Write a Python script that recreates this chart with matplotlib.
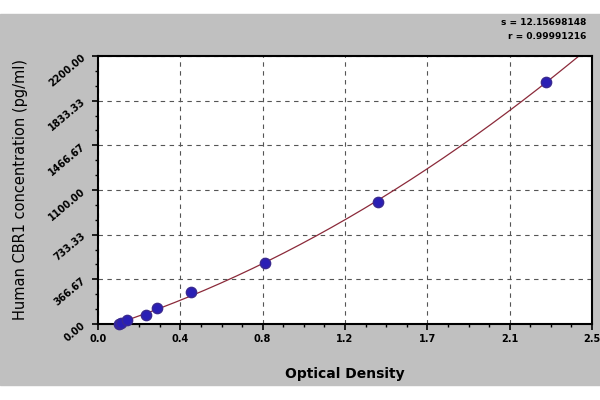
import matplotlib
matplotlib.use("Agg")
import matplotlib.pyplot as plt
import numpy as np

od = [0.105, 0.115, 0.147, 0.243, 0.299, 0.471, 0.845, 1.417, 2.267]
conc = [0, 10, 30, 74, 131, 263, 501, 1002, 1987]
xtick_labels = ["0.0", "0.4", "0.8", "1.2", "1.7", "2.1", "2.5"]
ytick_labels = ["0.00", "366.67", "733.33", "1100.00", "1466.67", "1833.33", "2200.00"]

fig = plt.figure(figsize=(6, 4), dpi=100)
fig.patch.set_facecolor("white")
fig.add_artist(plt.Rectangle((0, 0.037), 1, 0.928, transform=fig.transFigure, color="#c0c0c0", zorder=-10))
ax = fig.add_axes([98/600, 1-324/400, 494/600, 268/400])
ax.set_facecolor("white")

coef = np.polyfit(od, conc, 2)
xs = np.linspace(0.1, 2.5, 300)
ys = np.polyval(coef, xs)
m = ys <= 2200
ax.plot(xs[m], ys[m], color="#8b2a3a", lw=0.9, zorder=2)
ax.scatter(od, conc, s=55, color="#2a1fb5", edgecolor="#3a2a90", zorder=3, clip_on=False)

xt = np.linspace(0, 2.5, 7)
yt = np.linspace(0, 2200, 7)
ax.set_xlim(0, 2.5); ax.set_ylim(0, 2200)
ax.set_xticks(xt); ax.set_xticklabels(xtick_labels, fontsize=7, fontweight="bold")
ax.set_yticks(yt); ax.set_yticklabels(ytick_labels, fontsize=7, rotation=40, fontweight="bold")
ax.set_xticks(np.linspace(0, 2.5, 25), minor=True)
ax.set_yticks(np.linspace(0, 2200, 19), minor=True)
ax.grid(True, which="major", color="#555555", ls=(0, (4, 4)), lw=0.8)
ax.tick_params(direction="out", length=4, width=1.2)
ax.tick_params(which="minor", direction="out", length=2.5, width=1)
for s in ax.spines.values():
    s.set_linewidth(1.5)
ax.set_xlabel("Optical Density", fontsize=10, fontweight="bold", labelpad=16)
ax.set_ylabel("Human CBR1 concentration (pg/ml)", fontsize=10.5, labelpad=14)
fig.text(0.978, 0.955, "s = 12.15698148", ha="right", va="top", fontsize=6.5, fontweight="bold")
fig.text(0.978, 0.92, "r = 0.99991216", ha="right", va="top", fontsize=6.5, fontweight="bold")
fig.savefig("out.png", dpi=100)
